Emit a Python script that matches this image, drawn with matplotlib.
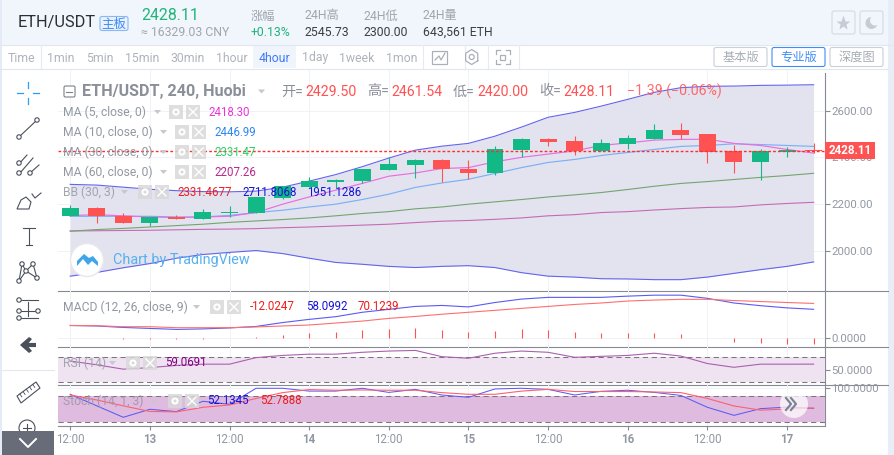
import numpy as np
import matplotlib
matplotlib.use("Agg")
import matplotlib.pyplot as plt
from matplotlib.patches import Circle, FancyBboxPatch, Rectangle, Polygon

plt.rcParams['font.family'] = ['Roboto', 'Noto Sans CJK SC', 'DejaVu Sans']
plt.rcParams['axes.unicode_minus'] = False

W, H = 895, 455

# K线数据
opens = [2147, 2182, 2150, 2118, 2144, 2136, 2159, 2161, 2226, 2272, 2295, 2298, 2345, 2367, 2388,
         2349, 2332, 2431, 2478, 2470, 2428, 2457, 2478, 2517, 2500, 2428, 2379, 2424, 2429.5]
closes = [2182, 2147, 2118, 2143, 2136, 2164, 2164, 2229, 2276, 2298, 2302, 2349, 2371, 2388, 2348,
          2332, 2435, 2478, 2465, 2428, 2461, 2483, 2517, 2495, 2422, 2379, 2428, 2431, 2428.11]
highs = [2197, 2187, 2163, 2143, 2151, 2177, 2190, 2229, 2276, 2314, 2309, 2352, 2400, 2391, 2391,
         2388, 2448, 2483, 2483, 2491, 2478, 2495, 2543, 2547, 2500, 2452, 2435, 2444, 2461.54]
lows = [2147, 2118, 2118, 2104, 2136, 2136, 2144, 2161, 2220, 2272, 2269, 2288, 2345, 2312, 2295,
        2305, 2323, 2401, 2449, 2411, 2428, 2435, 2478, 2477, 2375, 2332, 2302, 2401, 2420]

# 均线和布林带
ma5 = [2150, 2154, 2149, 2144, 2142, 2144, 2147, 2163, 2199, 2230, 2259, 2288, 2319, 2333, 2352,
       2356, 2381, 2400, 2414, 2428, 2451, 2462, 2474, 2477, 2478, 2460, 2451, 2434, 2418.3]
ma10 = [2147, 2147, 2147, 2147, 2144, 2144, 2151, 2163, 2173, 2187, 2199, 2219, 2242, 2271, 2290,
        2306, 2331, 2356, 2378, 2391, 2408, 2421, 2434, 2447, 2451, 2458, 2455, 2451, 2447]
ma30 = [2083, 2090, 2095, 2101, 2107, 2113, 2121, 2127, 2133, 2140, 2149, 2159, 2167, 2179, 2187,
        2199, 2209, 2219, 2230, 2239, 2249, 2262, 2276, 2288, 2296, 2305, 2314, 2322, 2331.5]
ma60 = [2084, 2085, 2086, 2087, 2089, 2091, 2092, 2094, 2098, 2101, 2105, 2109, 2113, 2120, 2126,
        2129, 2134, 2140, 2149, 2154, 2163, 2167, 2174, 2180, 2185, 2187, 2196, 2202, 2207]
bb_upper = [2284, 2281, 2272, 2263, 2257, 2253, 2252, 2255, 2272, 2298, 2326, 2360, 2397, 2431, 2448,
            2460, 2491, 2530, 2572, 2593, 2620, 2649, 2679, 2699, 2705, 2706, 2709, 2710, 2711.8]
bb_lower = [1890, 1906, 1926, 1944, 1967, 1983, 1992, 2000, 1987, 1967, 1949, 1941, 1932, 1927, 1932,
            1935, 1927, 1905, 1890, 1886, 1879, 1878, 1875, 1875, 1886, 1902, 1918, 1932, 1951]

# MACD
macd_line = [25, 24, 21, 19, 17, 18, 20, 23, 31, 37.5, 43, 52, 58, 64, 66,
             63, 72, 79, 82.5, 82.5, 82.5, 85, 87, 87, 80.5, 71, 65.5, 61, 58.1]
macd_signal = [25, 24.5, 22.5, 22.5, 20.5, 20.5, 20.5, 22, 24, 26, 30, 34, 39.5, 43.5, 48,
               52, 56, 60, 64, 68, 71, 75, 77, 78.5, 78.5, 76, 74, 72, 70.1]
macd_hist = [0, 0, -3, -2, -2, -2, -1, 1, 5.5, 9.5, 11.5, 16.5, 18, 20, 16,
             11.5, 13.5, 18, 16, 11.5, 9.5, 9.5, 9.5, 7.5, 0, -8, -11, -13, -12]

# RSI / Stoch
rsi = [64, 58, 51, 53.5, 57, 59, 59, 69.5, 73, 75, 75, 78, 80, 81, 71,
       68.5, 76.5, 80, 78, 70, 71.5, 73, 76.5, 72, 60, 54, 59, 59, 59.07]
stoch_k = [84.6, 58, 31.5, 50, 44.6, 68.5, 61.5, 98.5, 98.5, 92, 92, 98.5, 89, 96, 83,
           77.7, 97, 98.5, 96, 83, 91.5, 94, 89, 82, 54.6, 36, 51.5, 55, 52.13]
stoch_d = [83, 71.5, 58, 45, 44, 54.6, 60, 75, 88.5, 95.5, 94, 94.6, 94, 94, 88.5,
           84.6, 84.6, 92, 96, 91, 91, 91, 90, 88.5, 75, 57.7, 48, 50.7, 52.79]

tick_bars = [0, 3, 6, 9, 12, 15, 18, 21, 24, 27]
tick_labels = ['12:00', '13', '12:00', '14', '12:00', '15', '12:00', '16', '12:00', '17']
price_ticks = [2000, 2200, 2400, 2600]
price_labels = ['2000.00', '2200.00', '2400.00', '2600.00']
periods = ['Time', '1min', '5min', '15min', '30min', '1hour', '4hour', '1day', '1week', '1mon']

GREEN = '#12b886'
RED = '#ff5252'
AXIS = '#858a94'
LABEL = '#9298a2'
GRID = '#f1f2f6'
DARK = '#4a505c'

fig = plt.figure(figsize=(W / 100, H / 100), dpi=100, facecolor='white')


def px_axes(zorder):
    ax = fig.add_axes([0, 0, 1, 1], zorder=zorder)
    ax.set_xlim(0, W)
    ax.set_ylim(H, 0)
    ax.axis('off')
    ax.patch.set_alpha(0)
    return ax


def panel(top, bottom, ymin, ymax):
    ax = fig.add_axes([58 / W, 1 - bottom / H, (825 - 58) / W, (bottom - top) / H], zorder=2)
    ax.set_xlim((58 - 70.2) / 26.55, (825 - 70.2) / 26.55)
    ax.set_ylim(ymin, ymax)
    ax.patch.set_alpha(0)
    for s in ax.spines.values():
        s.set_visible(False)
    ax.set_xticks(tick_bars)
    ax.tick_params(axis='x', length=0, labelbottom=False)
    ax.yaxis.tick_right()
    ax.tick_params(axis='y', length=3.5, width=0.8, color=AXIS, labelcolor=LABEL, labelsize=8.2, pad=1)
    ax.grid(True, color=GRID, lw=0.7)
    ax.set_axisbelow(True)
    return ax


def label(ax, x, y, s, color=LABEL, size=8.3, **kw):
    kw.setdefault('va', 'center')
    kw.setdefault('ha', 'left')
    ax.text(x, y, s, color=color, fontsize=size, **kw)


def gear_close(ax, x1, x2, y):
    # 图例后面的两个灰色小按钮
    for x in (x1, x2):
        ax.add_patch(Rectangle((x, y - 7), 14, 14, fc='#d9d9d9', ec='none', alpha=0.85, zorder=6))
    ax.add_patch(Circle((x1 + 7, y), 3.6, fc='white', ec='none', zorder=7))
    ax.add_patch(Circle((x1 + 7, y), 1.5, fc='#d9d9d9', ec='none', zorder=8))
    ax.plot([x2 + 3, x2 + 11], [y - 4, y + 4], color='white', lw=1, zorder=7)
    ax.plot([x2 + 3, x2 + 11], [y + 4, y - 4], color='white', lw=1, zorder=7)


def legend_arrow(ax, x, y):
    ax.add_patch(Polygon([[x, y - 2], [x + 7, y - 2], [x + 3.5, y + 2]], fc='#c4c8cf', ec='none', zorder=7))


def ring(ax, x, y, r=2.2, color=DARK):
    ax.add_patch(Circle((x, y), r, fc='white', ec=color, lw=0.8, zorder=4))


def draw_chrome(ax):
    ax.add_patch(Rectangle((0, 0), W, 45, fc='#f1f5fc', ec='none'))
    ax.add_patch(Rectangle((0, 0), 2, H, fc='#e4ebf6', ec='none'))
    ax.add_patch(Rectangle((888, 0), 7, H, fc='#e8eef8', ec='none'))
    ax.plot([0, W], [44.5, 44.5], color='#e1e7f0', lw=0.8)
    ax.plot([0, 888], [68.5, 68.5], color='#e1e7f0', lw=0.8)
    ax.add_patch(Rectangle((253, 45), 43, 23, fc='#f0f4fb', ec='none'))
    for x in (41.5, 423.5, 465, 488.5, 519):
        ax.plot([x, x], [45, 68], color='#e6eaf1', lw=0.8)
    ax.plot([2, 54], [369.5, 369.5], color='#e6e8ec', lw=0.8)

    # 头部行情
    label(ax, 18, 23, 'ETH/USDT', '#2a2e36', 11.8)
    ax.add_patch(FancyBboxPatch((100, 16.5), 28, 14, boxstyle='round,pad=0,rounding_size=2',
                                fc='#e9f1fd', ec='#8ab8f5', lw=0.8))
    label(ax, 114, 24, '主板', '#3a8bf5', 9, ha='center')
    label(ax, 141, 16, '2428.11', '#1fb57a', 11.4)
    label(ax, 141, 32, '≈ 16329.03 CNY', '#a0a5ae', 8.8)
    label(ax, 251, 16, '涨幅', '#a0a5ae', 8.8)
    label(ax, 251, 32, '+0.13%', '#1fb57a', 8.8)
    stats = [(305, '24H高', '2545.73'), (364, '24H低', '2300.00'), (423, '24H量', '643,561 ETH')]
    for x, head, val in stats:
        label(ax, x, 16, head, '#a0a5ae', 8.8)
        label(ax, x, 32, val, '#3a3f48', 8.8)

    # 周期栏
    centers = [21, 61, 100, 142, 188, 232, 275, 315, 357, 402]
    for x, s in zip(centers, periods):
        label(ax, x, 58, s, '#3f7cf7' if s == '4hour' else '#aeb3bb', 8.8, ha='center')

    # 右上角按钮
    for x in (832, 860):
        ax.add_patch(FancyBboxPatch((x, 11), 23, 23, boxstyle='round,pad=0,rounding_size=2',
                                    fc='#f1f5fc', ec='#d5dbe4', lw=0.8))
    ax.plot(843.5, 23, marker='*', ms=11, color='#c5ccd6', mec='none')
    ax.add_patch(Circle((871.5, 23), 6, fc='#c5ccd6', ec='none'))
    ax.add_patch(Circle((875, 20.5), 5, fc='#f1f5fc', ec='none'))
    buttons = [(714, '基本版', '#c8d0da', '#a7adb6'), (772, '专业版', '#3f8cf5', '#3f8cf5'),
               (830, '深度图', '#c8d0da', '#a7adb6')]
    for x, s, ec, tc in buttons:
        ax.add_patch(FancyBboxPatch((x, 47.5), 53, 19, boxstyle='round,pad=0,rounding_size=2',
                                    fc='white', ec=ec, lw=0.8))
        label(ax, x + 26.5, 57.5, s, tc, 8.8, ha='center')

    # 工具栏小图标
    ax.add_patch(Rectangle((432.5, 50.5), 15, 13, fc='none', ec='#a9b0ba', lw=0.9))
    ax.plot([435, 439, 441, 445], [60, 56, 60, 53], color='#a9b0ba', lw=0.9)
    ang = np.radians(np.arange(30, 391, 60))
    ax.plot(471.7 + 7 * np.cos(ang), 57 + 7.5 * np.sin(ang), color='#a9b0ba', lw=0.9)
    ax.add_patch(Circle((471.7, 57), 2.5, fc='none', ec='#a9b0ba', lw=0.9))
    for sx, sy in [(-1, -1), (1, -1), (1, 1), (-1, 1)]:
        ax.plot([503 + sx * 7, 503 + sx * 7, 503 + sx * 3], [57 + sy * 3, 57 + sy * 7, 57 + sy * 7],
                color='#a9b0ba', lw=0.9)
    ax.add_patch(Rectangle((500.5, 54.5), 5, 5, fc='none', ec='#a9b0ba', lw=0.9))

    # 坐标轴分隔线
    for y in (291.3, 347.3, 385.3, 426.3):
        ax.plot([58, 888 if y < 426 else 825], [y, y], color=AXIS, lw=0.8)
    ax.plot([825.5, 825.5], [73, 426.3], color=AXIS, lw=0.8)


def draw_sidebar(ax):
    blue = '#2a9df4'
    ax.plot([28, 28], [82, 88], color=blue, lw=0.9)
    ax.plot([28, 28], [98, 104], color=blue, lw=0.9)
    ax.plot([17, 23], [93, 93], color=blue, lw=0.9)
    ax.plot([33, 39], [93, 93], color=blue, lw=0.9)
    # 直线
    ax.plot([19, 37], [137, 120], color=DARK, lw=0.8)
    ring(ax, 19, 137)
    ring(ax, 37, 120)
    # 平行线
    ax.plot([18, 27], [165, 155], color=DARK, lw=0.8)
    ax.plot([20, 33], [173, 158], color=DARK, lw=0.8)
    ax.plot([30, 39], [173, 165], color=DARK, lw=0.8)
    ring(ax, 19, 163)
    ring(ax, 19, 173)
    ring(ax, 30, 173)
    # 画笔
    ax.add_patch(Polygon([[17, 209], [29, 209], [31, 202], [26, 197], [21, 200]], fc='white', ec=DARK, lw=0.8))
    ax.plot([32, 35, 41], [194, 198, 193], color=DARK, lw=0.8)
    # 文字
    ax.plot([23, 35], [228, 228], color=DARK, lw=0.8)
    ax.plot([29, 29], [228, 245], color=DARK, lw=0.8)
    ax.plot([26, 32], [245, 245], color=DARK, lw=0.8)
    # 形态
    pts = [(19, 281), (22, 264), (26, 271), (33, 264), (37, 278)]
    ax.plot(*zip(*pts), color=DARK, lw=0.8)
    ax.plot([19, 26, 37], [281, 271, 278], color=DARK, lw=0.8)
    for p in pts:
        ring(ax, p[0], p[1])
    # 斐波那契
    for y in (300, 311, 318):
        ax.plot([18, 38], [y, y], color=DARK, lw=0.8)
        ring(ax, 19, y)
    ring(ax, 38, 311)
    ax.plot([28, 28], [302, 316], color=DARK, lw=0.8)
    # 返回箭头
    ax.plot([22, 36], [345, 345], color=DARK, lw=3, solid_capstyle='butt')
    ax.add_patch(Polygon([[20, 345], [29, 337], [32, 339], [27, 345], [32, 351], [29, 353]], fc=DARK, ec='none'))
    # 尺子
    ax.add_patch(Polygon([[17, 396], [36, 382], [40, 388], [21, 403]], fc='white', ec=DARK, lw=0.8))
    for t in np.arange(0.15, 1, 0.17):
        ax.plot([17 + 19 * t, 19 + 19 * t], [396 - 14 * t, 399 - 14 * t], color=DARK, lw=0.6)
    # 放大镜
    ax.add_patch(Circle((27, 428), 8, fc='white', ec=DARK, lw=0.8))
    ax.plot([23, 31], [428, 428], color=DARK, lw=0.8)
    ax.plot([27, 27], [424, 432], color=DARK, lw=0.8)
    # 底部按钮
    ax.add_patch(Rectangle((2, 431), 52, 24, fc='#686c78', ec='none', zorder=5))
    ax.plot([20, 28, 36], [439, 447, 439], color='white', lw=1.4, zorder=6)


def draw_candles(ax):
    for i, (o, h, l, c) in enumerate(zip(opens, highs, lows, closes)):
        color = GREEN if c >= o else RED
        ax.vlines(i, l, h, color=color, lw=0.8, zorder=4)
        body = max(abs(c - o), 5)
        ax.bar(i, body, bottom=min(o, c), width=0.64, color=color, zorder=4)


def draw_main(ax):
    x = np.arange(len(closes))
    ax.fill_between(x, bb_lower, bb_upper, color='#e3e3ef', lw=0, zorder=1)
    ax.plot(x, bb_upper, color='#6464ee', lw=0.8, zorder=2)
    ax.plot(x, bb_lower, color='#6464ee', lw=0.8, zorder=2)
    ax.plot(x, ma60, color='#c76ab4', lw=0.8, zorder=2)
    ax.plot(x, ma30, color='#74a56e', lw=0.8, zorder=2)
    ax.plot(x, ma10, color='#7cb0f6', lw=0.85, zorder=3)
    ax.plot(x, ma5, color='#e86fe0', lw=0.85, zorder=3)
    draw_candles(ax)
    ax.axhline(closes[-1], color='#ff2f2f', lw=1, ls=(0, (2, 1.5)), zorder=5)
    ax.set_yticks(price_ticks, price_labels)


def draw_indicators(ax_macd, ax_rsi, ax_stoch):
    x = np.arange(len(closes))
    ax_macd.vlines(x, 0, macd_hist, color=RED, lw=0.8)
    ax_macd.plot(x, macd_line, color='#5a5af5', lw=0.8)
    ax_macd.plot(x, macd_signal, color='#ff6f6f', lw=0.8)
    ax_macd.set_yticks([0], ['0.0000'])

    ax_rsi.axhspan(30, 70, color='#f0e3f1', lw=0)
    for y in (30, 70):
        ax_rsi.axhline(y, color='#7d7480', lw=0.75, ls=(0, (5, 3.5)))
    ax_rsi.plot(x, rsi, color='#aa5fb0', lw=0.8)
    ax_rsi.set_yticks([50], ['50.0000'])

    ax_stoch.axhspan(20, 80, color='#dfbcdf', lw=0)
    for y in (20, 80):
        ax_stoch.axhline(y, color='#7d7480', lw=0.75, ls=(0, (5, 3.5)))
    ax_stoch.plot(x, stoch_k, color='#5a5af5', lw=0.75)
    ax_stoch.plot(x, stoch_d, color='#ff5f6f', lw=0.8)
    ax_stoch.set_yticks([100], ['100.0000'])
    ax_stoch.tick_params(axis='x', length=3, width=0.8, color=AXIS, labelbottom=True, pad=2)
    ax_stoch.set_xticks(tick_bars, tick_labels)
    for t, s in zip(ax_stoch.get_xticklabels(), tick_labels):
        t.set_fontsize(8.3)
        t.set_color(LABEL)
        t.set_fontweight('normal' if ':' in s else 'bold')


def draw_overlay(ax):
    # 主图标题
    ax.add_patch(FancyBboxPatch((64, 86), 11, 11, boxstyle='round,pad=0,rounding_size=1.5',
                                fc='white', ec='#7b808a', lw=0.8, zorder=6))
    ax.plot([66.5, 72.5], [91.5, 91.5], color='#7b808a', lw=0.8, zorder=7)
    label(ax, 82, 91.5, 'ETH/USDT, 240, Huobi', '#8a8f99', 11.6, fontweight='bold', zorder=7)
    legend_arrow(ax, 258, 91.5)
    ohlc = [(281, '开=', 305, '2429.50'), (367, '高=', 391, '2461.54'),
            (453, '低=', 477, '2420.00'), (539, '收=', 563, '2428.11')]
    for x1, name, x2, val in ohlc:
        label(ax, x1, 91.5, name, '#8a8f99', 10.2, zorder=7)
        label(ax, x2, 91.5, val, RED, 10.2, zorder=7)
    label(ax, 627, 91.5, '−1.39 (−0.06%)', RED, 10.2, zorder=7, alpha=0.85)

    # 图例
    rows = [(112, 'MA (5, close, 0)', 154, 169, 208, '2418.30', '#e935d8'),
            (132, 'MA (10, close, 0)', 160, 175, 214.7, '2446.99', '#2f86f0'),
            (152, 'MA (30, close, 0)', 160, 175, 214.7, '2331.47', '#27d468'),
            (172, 'MA (60, close, 0)', 160, 175, 214.7, '2207.26', '#b5278e')]
    for y, name, ax_x, bx, vx, val, color in rows:
        label(ax, 63, y, name, '#9298a2', 8.7, zorder=7)
        legend_arrow(ax, ax_x, y)
        gear_close(ax, bx, bx + 17, y)
        label(ax, vx, y, val, color, 8.3, zorder=9)

    label(ax, 63, 192, 'BB (30, 3)', '#a0a5ae', 8.7, zorder=7)
    legend_arrow(ax, 121, 192)
    gear_close(ax, 138, 155, 192)
    label(ax, 177, 192, '2331.4677', '#ee1c1c', 8.3, zorder=9)
    label(ax, 242, 192, '2711.8068', '#1414d8', 8.3, zorder=9)
    label(ax, 307, 192, '1951.1286', '#1414d8', 8.3, zorder=9)

    label(ax, 63, 307, 'MACD (12, 26, close, 9)', '#9298a2', 8.7, zorder=7)
    legend_arrow(ax, 193, 307)
    gear_close(ax, 210, 227, 307)
    label(ax, 250, 307, '-12.0247', '#ee1c1c', 8.3, zorder=9)
    label(ax, 306, 307, '58.0992', '#1414d8', 8.3, zorder=9)
    label(ax, 358, 307, '70.1239', '#ee1c1c', 8.3, zorder=9)

    label(ax, 63, 363, 'RSI (14)', '#a0a5ae', 8.7, zorder=7)
    legend_arrow(ax, 109, 363)
    gear_close(ax, 126, 143, 363)
    label(ax, 165, 363, '59.0691', '#800080', 8.3, zorder=9)

    label(ax, 63, 401, 'Stoch (14, 1, 3)', '#a598ae', 8.7, zorder=7)
    legend_arrow(ax, 151, 401)
    gear_close(ax, 168, 185, 401)
    label(ax, 207, 401, '52.1345', '#1414d8', 8.3, zorder=9)
    label(ax, 260, 401, '52.7888', '#ee1c1c', 8.3, zorder=9)

    # 水印
    ax.add_patch(Circle((87, 260), 16.5, fc='white', ec='#e6e8ec', lw=1, zorder=6))
    ax.add_patch(Polygon([[77, 266], [77, 261], [84, 254], [89, 258], [93, 256], [98, 262], [98, 266],
                          [92, 261], [88, 265], [83, 259]], fc='#3da5ea', ec='none', zorder=7))
    label(ax, 113, 260, 'Chart by TradingView', '#58b0ef', 10.4, zorder=7)

    # 最新价标签
    ax.add_patch(Rectangle((825, 142), 50, 17, fc='#ff5252', ec='none', zorder=8))
    label(ax, 850, 150.5, '2428.11', 'white', 8.4, ha='center', fontweight='bold', zorder=9)

    # 滚动按钮
    ax.add_patch(Circle((794, 404), 14, fc='white', ec='none', alpha=0.72, zorder=8))
    for dx in (-3.5, 1.5):
        ax.plot([789.5 + dx, 794.5 + dx, 789.5 + dx], [398, 404, 410], color='#78818f', lw=1.5, zorder=9)


def main():
    bg = px_axes(1)
    fg = px_axes(5)
    draw_chrome(bg)
    draw_sidebar(fg)

    ax_main = panel(70, 291.3, 1825, 2775)
    ax_macd = panel(291.3, 347.3, -19.6, 94.9)
    ax_rsi = panel(347.3, 385.3, 25.2, 86)
    ax_stoch = panel(385.3, 426.3, 10.7, 105.4)
    draw_main(ax_main)
    draw_indicators(ax_macd, ax_rsi, ax_stoch)
    draw_overlay(fg)

    fig.savefig('out.png', dpi=100)
    plt.close(fig)


if __name__ == '__main__':
    main()
